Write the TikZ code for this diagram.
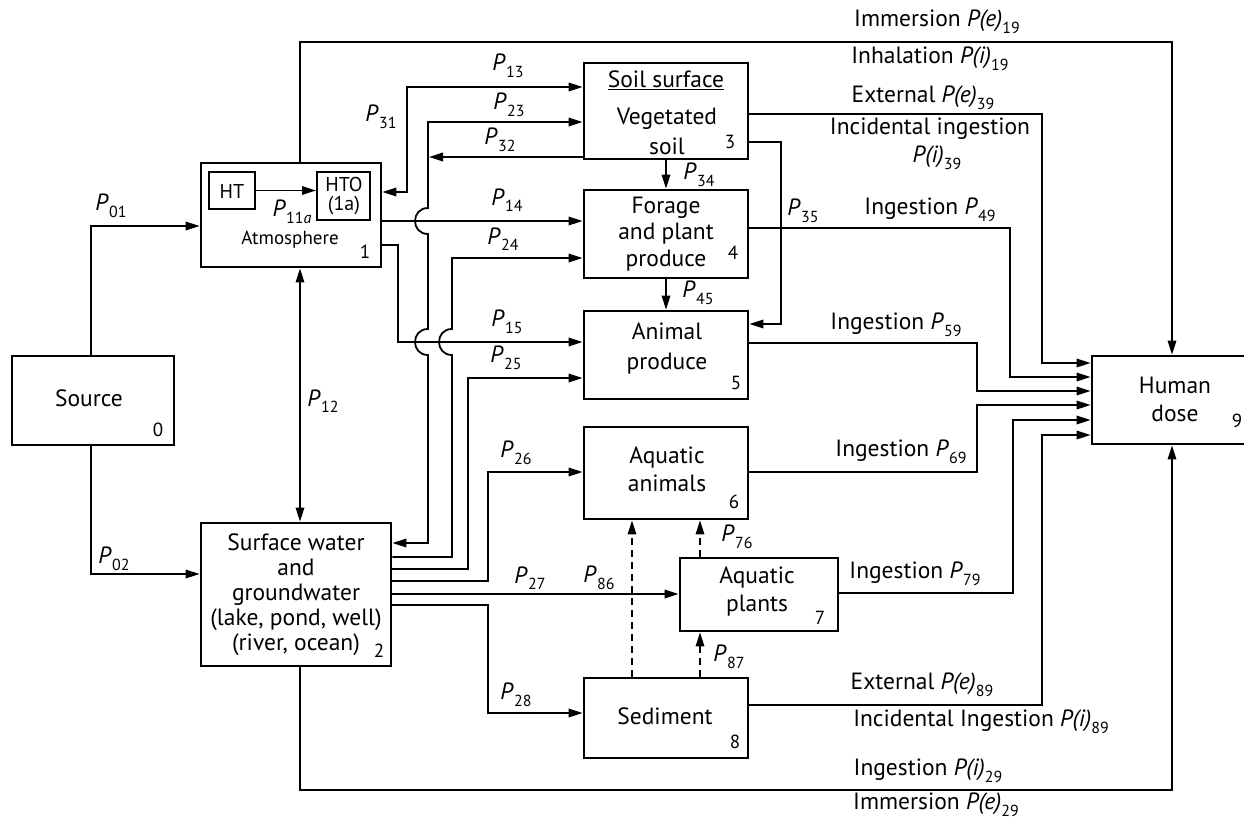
\documentclass[tikz,border=0pt]{standalone}
\usepackage{fontspec}
\setmainfont{PT Sans}
\usetikzlibrary{arrows.meta}
\newcommand\subf{\fontsize{16}{16}\selectfont}
\newcommand\Ps[1]{\textit{P}\kern0.3pt\raisebox{-0.28em}{\subf #1}}
\newcommand\Pp[2]{\textit{P(#1)}\raisebox{-0.28em}{\subf #2}}
\newcommand\bigf{\fontsize{23.5}{25}\selectfont}
\newcommand\numf{\fontsize{19}{21}\selectfont}
\newcommand\htf{\fontsize{20}{22}\selectfont}
\begin{document}
\begin{tikzpicture}[x=1pt,y=-1pt,
  box/.style={draw, line width=2.8pt, inner sep=0pt},
  sbox/.style={draw, line width=2pt, inner sep=0pt},
  conn/.style={line width=1.8pt},
  arr/.style={conn, -{Triangle[length=14pt,width=8.5pt]}},
  darr/.style={conn, {Triangle[length=14pt,width=8.5pt]}-{Triangle[length=14pt,width=8.5pt]}},
  dsh/.style={arr, dash pattern=on 7pt off 5pt},
  txt/.style={inner sep=0pt, align=center, font=\bigf},
  num/.style={inner sep=0pt, font=\numf},
  lab/.style={inner sep=0pt, font=\bigf},
]
\useasboundingbox (0,0) rectangle (1244,819);
\fill[white] (0,0) rectangle (1244,819);

% boxes
\node[box, minimum width=162pt, minimum height=89pt] (src) at (93,400.5) {};
\node[box, minimum width=180pt, minimum height=104pt] (atm) at (291,215) {};
\node[sbox, minimum width=46pt, minimum height=37pt] (ht) at (232,190.5) {};
\node[sbox, minimum width=53pt, minimum height=48pt] (hto) at (343.5,196) {};
\node[box, minimum width=164pt, minimum height=96pt] (soil) at (666,111) {};
\node[box, minimum width=164pt, minimum height=88pt] (forage) at (666,234) {};
\node[box, minimum width=164pt, minimum height=88pt] (animal) at (666,355) {};
\node[box, minimum width=164pt, minimum height=92pt] (aqa) at (666,473) {};
\node[box, minimum width=158pt, minimum height=73pt] (aqp) at (759,594.5) {};
\node[box, minimum width=164pt, minimum height=80pt] (sed) at (666,718) {};
\node[box, minimum width=190pt, minimum height=143pt] (wat) at (296,594.5) {};
\node[box, minimum width=166pt, minimum height=88pt] (hum) at (1175,400) {};

% box texts
\node[txt] (srcT) at (89,398) {Source};
\node[num] (srcN) at (158,430) {0};
\node[inner sep=0pt, font=\numf] (atmT) at (290,240) {Atmosphere};
\node[num] (atmN) at (365,252) {1};
\node[inner sep=0pt, font=\htf] (htT) at (232,191) {HT};
\node[inner sep=0pt, font=\htf, align=center] (htoT) at (344,196) {HTO\\[-3pt](1a)};
\node[txt] (soilT1) at (666,80) {\underline{Soil surface}};
\node[txt, font=\fontsize{23.5}{30}\selectfont] (soilT2) at (667,131) {Vegetated\\soil};
\node[num] (soilN) at (730,142) {3};
\node[txt, font=\fontsize{23.5}{26.5}\selectfont] (forT) at (666,234) {Forage\\and plant\\produce};
\node[num] (forN) at (733,253) {4};
\node[txt, font=\fontsize{23.5}{30}\selectfont] (aniT) at (667,348) {Animal\\produce};
\node[num] (aniN) at (736,383) {5};
\node[txt, font=\fontsize{23.5}{28}\selectfont] (aqaT) at (667,469) {Aquatic\\animals};
\node[num] (aqaN) at (734,502) {6};
\node[txt, font=\fontsize{23.5}{28}\selectfont] (aqpT) at (757,591) {Aquatic\\plants};
\node[num] (aqpN) at (820,618) {7};
\node[txt] (sedT) at (665,716) {Sediment};
\node[num] (sedN) at (735,742) {8};
\node[txt] (watT) at (296,595) {Surface water\\and\\groundwater\\(lake, pond, well)\\(river, ocean)};
\node[num] (watN) at (379,651) {2};
\node[txt, font=\fontsize{23.5}{28}\selectfont] (humT) at (1175,399) {Human\\dose};
\node[num] (humN) at (1237,421) {9};

% connectors
\draw[arr] (src.north -| 91,0) |- (atm.west |- 0,226);
\draw[arr] (src.south -| 91,0) |- (wat.west |- 0,574);
\draw[arr] (atm.north -| 300,0) -- (300,42) -| (hum.north -| 1172,0);
\draw[darr] (atm.south -| 300,0) -- (wat.north -| 300,0);
\draw[arr] (ht.east) -- (hto.west |- ht.east);
\draw[darr] (atm.east |- 0,192) -| (407,87) -- (soil.west |- 0,87);
\draw[darr] (wat.east |- 0,543) -| (428,355)
  .. controls (410.7,355) and (410.7,329) .. (428,329) -- (428,234)
  .. controls (410.7,234) and (410.7,208) .. (428,208) |- (soil.west |- 0,122);
\draw[arr] (soil.west |- 0,157) -- (429,157);
\draw[arr] (atm.east |- 0,221) -- (forage.west |- 0,221);
\draw[arr] (wat.east |- 0,557) -| (452,355)
  .. controls (434.7,355) and (434.7,329) .. (452,329) |- (forage.west |- 0,258);
\draw[arr] (atm.east |- 0,245) -| (398,342) -- (animal.west |- 0,342);
\draw[arr] (wat.east |- 0,569) -| (468,378) -- (animal.west |- 0,378);
\draw[arr] (wat.east |- 0,581) -| (488,472) -- (aqa.west |- 0,472);
\draw[arr] (wat.east |- 0,594) -- (aqp.west |- 0,594);
\draw[arr] (wat.east |- 0,605) -| (488,713) -- (sed.west |- 0,713);
\draw[arr] (wat.south -| 300,0) |- (1172,790) -- (hum.south -| 1172,0);
\draw[arr] (soil.south) -- (forage.north);
\draw[arr] (forage.south) -- (animal.north);
\draw[arr] (soil.east |- 0,142) -| (781,324) -- (animal.east |- 0,324);
\draw[arr] (soil.east |- 0,114) -| (1042,363) -- (hum.west |- 0,363);
\draw[arr] (forage.east |- 0,228) -| (1010,377) -- (hum.west |- 0,377);
\draw[arr] (animal.east |- 0,343) -| (977,391) -- (hum.west |- 0,391);
\draw[arr] (aqa.east |- 0,472) -| (977,405) -- (hum.west |- 0,405);
\draw[arr] (aqp.east |- 0,593) -| (1013,420) -- (hum.west |- 0,420);
\draw[arr] (sed.east |- 0,705) -| (1042,435) -- (hum.west |- 0,435);
\draw[dsh] (sed.north -| 632,0) -- (aqa.south -| 632,0);
\draw[dsh] (aqp.north -| 700,0) -- (aqa.south -| 700,0);
\draw[dsh] (sed.north -| 700,0) -- (aqp.south -| 700,0);

% P labels
\node[lab] (p01) at (111,206) {\Ps{01}};
\node[lab] (p02) at (114,559) {\Ps{02}};
\node[lab] (p13) at (508,66) {\Ps{13}};
\node[lab] (p31) at (381,117) {\Ps{31}};
\node[lab] (p23) at (509,105) {\Ps{23}};
\node[lab] (p32) at (500,140) {\Ps{32}};
\node[lab] (p14) at (507,200) {\Ps{14}};
\node[lab] (p24) at (503,239) {\Ps{24}};
\node[lab] (p11) at (292,212) {\textit{P}\kern0.3pt\raisebox{-0.28em}{\subf 11\textit{a}}};
\node[lab] (p15) at (507,322) {\Ps{15}};
\node[lab] (p25) at (506,358) {\Ps{25}};
\node[lab] (p26) at (516,453) {\Ps{26}};
\node[lab] (p12) at (323,401) {\Ps{12}};
\node[lab] (p27) at (530,578) {\Ps{27}};
\node[lab] (p86) at (599,578) {\Ps{86}};
\node[lab] (p28) at (516,695) {\Ps{28}};
\node[lab] (p76) at (737,537) {\Ps{76}};
\node[lab] (p87) at (729,657) {\Ps{87}};
\node[lab] (p34) at (699,175) {\Ps{34}};
\node[lab] (p35) at (803,211) {\Ps{35}};
\node[lab] (p45) at (698,293) {\Ps{45}};

% pathway labels
\node[lab] (l19a) at (937,22) {Immersion \Pp{e}{19}};
\node[lab] (l19b) at (930,59) {Inhalation \Pp{i}{19}};
\node[lab] (l39a) at (923,98) {External \Pp{e}{39}};
\node[lab] (l39b) at (930,129) {Incidental ingestion};
\node[lab] (l39c) at (937,158) {\Pp{i}{39}};
\node[lab] (l49) at (930,210) {Ingestion \Ps{49}};
\node[lab] (l59) at (896,325) {Ingestion \Ps{59}};
\node[lab] (l69) at (901,452) {Ingestion \Ps{69}};
\node[lab] (l79) at (915,574) {Ingestion \Ps{79}};
\node[lab] (l89a) at (922,685) {External \Pp{e}{89}};
\node[lab] (l89b) at (981,722) {Incidental Ingestion \Pp{i}{89}};
\node[lab] (l29a) at (928,771) {Ingestion \Pp{i}{29}};
\node[lab] (l29b) at (936,805) {Immersion \Pp{e}{29}};
\end{tikzpicture}
\end{document}
